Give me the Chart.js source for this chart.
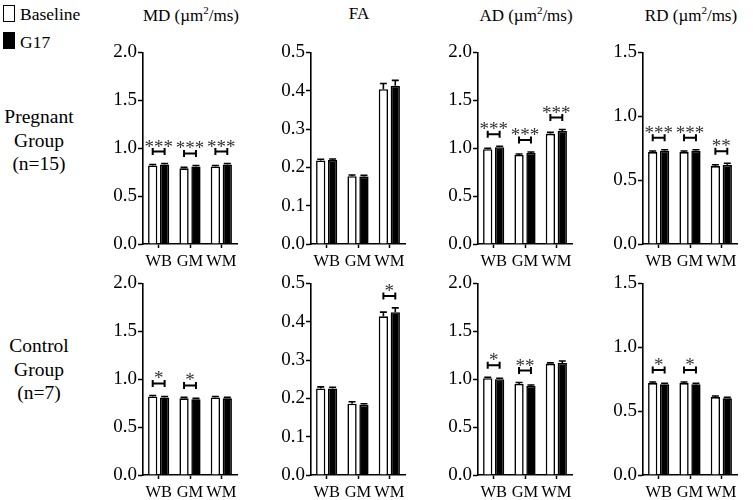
<!DOCTYPE html>
<html>
<head>
<meta charset="utf-8">
<script src="https://cdn.jsdelivr.net/npm/chart.js@4.4.1/dist/chart.umd.min.js"></script>
<style>
  body { margin: 0; width: 753px; height: 500px; background: #fff; position: relative; overflow: hidden;
         font-family: 'Liberation Serif', 'Times New Roman', serif; color: #000; }
  canvas { position: absolute; }
  .title { position: absolute; top: 4px; width: 160px; text-align: center; font-size: 17px; white-space: nowrap; }
  .title sup { font-size: 11px; }
  .row { position: absolute; left: 0; width: 78px; text-align: center; font-size: 19.5px; line-height: 23.5px; }
  .key { position: absolute; left: 3px; width: 10px; height: 15px; border: 1.5px solid #000; }
  .keytxt { position: absolute; left: 20px; font-size: 17.5px; line-height: 20px; }
</style>
</head>
<body>
<div class="key" style="top:5px;background:#fff"></div>
<div class="keytxt" style="top:4px">Baseline</div>
<div class="key" style="top:32px;background:#000"></div>
<div class="keytxt" style="top:32px">G17</div>

<script>
'use strict';

const categories = ['WB', 'GM', 'WM'];
const seriesNames = ['Baseline', 'G17'];
const panelTitles = ['MD (µm<sup>2</sup>/ms)', 'FA', 'AD (µm<sup>2</sup>/ms)', 'RD (µm<sup>2</sup>/ms)'];
const yMax = [2.0, 0.5, 2.0, 1.5];
const yStep = [0.5, 0.1, 0.5, 0.5];
const rowLabels = [['Pregnant', 'Group', '(n=15)'], ['Control', 'Group', '(n=7)']];

// pregnant group, one inner array per panel: MD, FA, AD, RD
const pregBaseline = [[0.82, 0.79, 0.81], [0.218, 0.177, 0.404], [0.99, 0.93, 1.15], [0.72, 0.72, 0.61]];
const pregG17 = [[0.83, 0.81, 0.83], [0.219, 0.176, 0.413], [1.01, 0.95, 1.18], [0.73, 0.73, 0.62]];
const pregBaselineErr = [[0.01, 0.01, 0.01], [0.003, 0.003, 0.015], [0.01, 0.01, 0.015], [0.008, 0.008, 0.01]];
const pregG17Err = [[0.01, 0.01, 0.01], [0.003, 0.003, 0.014], [0.01, 0.01, 0.015], [0.008, 0.008, 0.012]];
const pregSig = [['***', '***', '***'], ['', '', ''], ['***', '***', '***'], ['***', '***', '**']];

// control group
const ctrlBaseline = [[0.82, 0.80, 0.81], [0.226, 0.186, 0.414], [1.01, 0.95, 1.16], [0.72, 0.72, 0.61]];
const ctrlG17 = [[0.81, 0.79, 0.80], [0.226, 0.183, 0.425], [1.00, 0.93, 1.17], [0.71, 0.71, 0.60]];
const ctrlBaselineErr = [[0.01, 0.01, 0.01], [0.004, 0.005, 0.011], [0.01, 0.015, 0.01], [0.008, 0.008, 0.008]];
const ctrlG17Err = [[0.01, 0.01, 0.01], [0.003, 0.003, 0.011], [0.01, 0.01, 0.02], [0.008, 0.008, 0.008]];
const ctrlSig = [['*', '*', ''], ['', '', '*'], ['*', '**', ''], ['*', '*', '']];

const axisX = [143, 311, 478, 643];
const FONT = "'Liberation Serif', 'Times New Roman', serif";

// error bars (upward only) and significance brackets
const marksPlugin = {
  id: 'marks',
  afterDatasetsDraw(chart, args, opts) {
    const ctx = chart.ctx;
    const yScale = chart.scales.y;
    const tops = [[], []];
    ctx.save();
    ctx.strokeStyle = '#000';
    ctx.lineWidth = 1.6;
    chart.data.datasets.forEach((ds, i) => {
      chart.getDatasetMeta(i).data.forEach((bar, j) => {
        const yTop = yScale.getPixelForValue(ds.data[j] + ds.errors[j]);
        tops[i][j] = yTop;
        ctx.beginPath();
        ctx.moveTo(bar.x, bar.y);
        ctx.lineTo(bar.x, yTop);
        ctx.moveTo(bar.x - 3.5, yTop);
        ctx.lineTo(bar.x + 3.5, yTop);
        ctx.stroke();
      });
    });

    ctx.lineWidth = 2;
    ctx.fillStyle = '#333';
    ctx.font = '19px ' + FONT;
    ctx.textAlign = 'center';
    ctx.textBaseline = 'alphabetic';
    opts.sig.forEach((s, j) => {
      if (!s) return;
      const a = chart.getDatasetMeta(0).data[j];
      const b = chart.getDatasetMeta(1).data[j];
      const y = Math.min(tops[0][j], tops[1][j]) - 12;
      ctx.beginPath();
      ctx.moveTo(a.x, y - 3.5); ctx.lineTo(a.x, y + 3.5);
      ctx.moveTo(a.x, y); ctx.lineTo(b.x, y);
      ctx.moveTo(b.x, y - 3.5); ctx.lineTo(b.x, y + 3.5);
      ctx.stroke();
      ctx.fillText(s, (a.x + b.x) / 2, y + 1);
    });
    ctx.restore();
  }
};

function makePanel(row, p, baseline, g17, baseErr, g17Err, sig) {
  const top = row === 0 ? 40 : 271;
  const xHeight = 34;

  const canvas = document.createElement('canvas');
  canvas.width = 140;
  canvas.height = 12 + 192 + xHeight;
  canvas.style.left = (axisX[p] - 40) + 'px';
  canvas.style.top = top + 'px';
  document.body.appendChild(canvas);

  return new Chart(canvas, {
    type: 'bar',
    data: {
      labels: categories,
      datasets: [{
        label: seriesNames[0],
        data: baseline,
        errors: baseErr,
        backgroundColor: '#fff',
        borderColor: '#000',
        borderWidth: 1.6
      }, {
        label: seriesNames[1],
        data: g17,
        errors: g17Err,
        backgroundColor: '#000',
        borderColor: '#000',
        borderWidth: 1.6
      }]
    },
    options: {
      responsive: false,
      animation: false,
      devicePixelRatio: 1,
      layout: { padding: { top: 12, right: 6, left: 0, bottom: 0 } },
      datasets: { bar: { categoryPercentage: 0.76, barPercentage: 0.78 } },
      plugins: {
        legend: { display: false },
        tooltip: { enabled: false },
        marks: { sig: sig }
      },
      scales: {
        x: {
          grid: { drawOnChartArea: false, offset: false, tickLength: 4, tickColor: '#000', tickWidth: 1.5 },
          border: { color: '#000', width: 1.6 },
          ticks: { color: '#000', font: { family: FONT, size: 16.5 }, padding: 4, maxRotation: 0, autoSkip: false },
          afterFit: s => { s.height = xHeight; }
        },
        y: {
          min: 0,
          max: yMax[p],
          grid: { drawOnChartArea: false, tickLength: 5, tickColor: '#000', tickWidth: 1.5 },
          border: { color: '#000', width: 1.6 },
          ticks: {
            stepSize: yStep[p],
            color: '#000',
            padding: 1,
            font: { family: FONT, size: 19 },
            callback: v => Number(v).toFixed(1)
          },
          afterFit: s => { s.width = 40; }
        }
      }
    },
    plugins: [marksPlugin]
  });
}

panelTitles.forEach((t, p) => {
  const el = document.createElement('div');
  el.className = 'title';
  el.innerHTML = t;
  el.style.left = (axisX[p] + 48 - 80) + 'px';
  document.body.appendChild(el);
});

rowLabels.forEach((lines, r) => {
  const el = document.createElement('div');
  el.className = 'row';
  el.innerHTML = lines.join('<br>');
  el.style.top = (r === 0 ? 105 : 334) + 'px';
  document.body.appendChild(el);
});

for (let p = 0; p < 4; p++) {
  makePanel(0, p, pregBaseline[p], pregG17[p], pregBaselineErr[p], pregG17Err[p], pregSig[p]);
  makePanel(1, p, ctrlBaseline[p], ctrlG17[p], ctrlBaselineErr[p], ctrlG17Err[p], ctrlSig[p]);
}
</script>
</body>
</html>
